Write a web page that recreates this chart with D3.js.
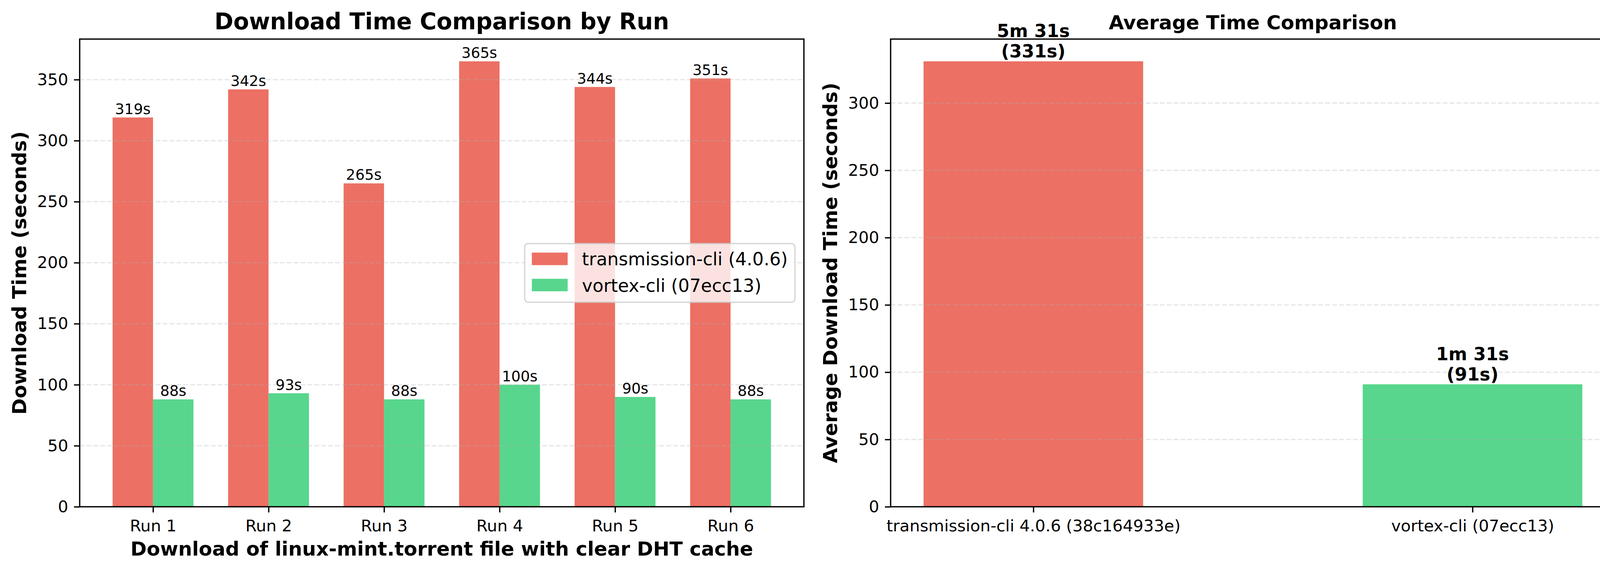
<!DOCTYPE html>
<html>
<head>
<meta charset="utf-8">
<script src="https://cdn.jsdelivr.net/npm/d3@7"></script>
<style>
  html, body { margin: 0; padding: 0; background: #fff; }
  svg { display: block; }
  text { font-family: "DejaVu Sans", sans-serif; fill: #000; }
</style>
</head>
<body>
<svg id="chart" width="4164" height="1464"></svg>
<script>
// ---------- data ----------
const runs = ["Run 1", "Run 2", "Run 3", "Run 4", "Run 5", "Run 6"];
const transmissionTimes = [319, 342, 265, 365, 344, 351];
const vortexTimes = [88, 93, 88, 100, 90, 88];
const seriesNames = ["transmission-cli (4.0.6)", "vortex-cli (07ecc13)"];
const avgCategories = ["transmission-cli 4.0.6 (38c164933e)", "vortex-cli (07ecc13)"];
const avgTimes = [331, 91];
const leftTicks = [0, 50, 100, 150, 200, 250, 300, 350];
const rightTicks = [0, 50, 100, 150, 200, 250, 300];

// ---------- styles ----------
const RED = "#e74c3c", GREEN = "#2ecc71";
const PT = 300 / 72;
const tickFs = 10 * PT, labelFs = 12 * PT, valFs = 9 * PT, legFs = 11 * PT;
const lw = 0.8 * PT;

const svg = d3.select("#chart");
svg.append("rect").attr("width", 4164).attr("height", 1464).attr("fill", "#fff");

function drawFrame(g, x0, x1, y0, y1) {
  g.append("rect").attr("x", x0).attr("y", y1).attr("width", x1 - x0).attr("height", y0 - y1)
    .attr("fill", "none").attr("stroke", "#000").attr("stroke-width", lw);
}

function yAxis(g, y, ticks, x0) {
  const ax = d3.axisLeft(y).tickValues(ticks).tickSize(3.5 * PT).tickPadding(3.5 * PT).tickFormat(d3.format("d"));
  const a = g.append("g").attr("transform", `translate(${x0},0)`).call(ax);
  a.select(".domain").remove();
  a.selectAll("line").attr("stroke", "#000").attr("stroke-width", lw);
  a.selectAll("text").attr("font-size", tickFs).attr("font-family", "DejaVu Sans").attr("fill", "#000");
}

function grid(g, y, ticks, x0, x1) {
  g.append("g").selectAll("line").data(ticks.filter(t => t > 0)).join("line")
    .attr("x1", x0).attr("x2", x1).attr("y1", d => y(d)).attr("y2", d => y(d))
    .attr("stroke", "#b0b0b0").attr("stroke-opacity", 0.3).attr("stroke-width", lw)
    .attr("stroke-dasharray", `${3.7 * lw},${1.6 * lw}`);
}

// ---------- left chart ----------
const L = { x0: 204, x1: 2058, y0: 1297, y1: 100 };
const bw = 0.35;
const xL = d3.scaleLinear().domain([-0.635, 5.635]).range([L.x0, L.x1]);
const yL = d3.scaleLinear().domain([0, 383.25]).range([L.y0, L.y1]);
const gL = svg.append("g");

const series = [
  { name: seriesNames[0], vals: transmissionTimes, color: RED, off: -bw / 2 },
  { name: seriesNames[1], vals: vortexTimes, color: GREEN, off: bw / 2 }
];
series.forEach(s => {
  gL.append("g").selectAll("rect").data(s.vals).join("rect")
    .attr("x", (d, i) => xL(i + s.off - bw / 2))
    .attr("width", (d, i) => xL(i + s.off + bw / 2) - xL(i + s.off - bw / 2))
    .attr("y", d => yL(d)).attr("height", d => yL(0) - yL(d))
    .attr("fill", s.color).attr("fill-opacity", 0.8);
});
grid(gL, yL, leftTicks, L.x0, L.x1);
series.forEach(s => {
  gL.append("g").selectAll("text").data(s.vals).join("text")
    .attr("x", (d, i) => xL(i + s.off)).attr("y", d => yL(d) - 9)
    .attr("text-anchor", "middle").attr("font-size", valFs).text(d => d + "s");
});
drawFrame(gL, L.x0, L.x1, L.y0, L.y1);
yAxis(gL, yL, leftTicks, L.x0);
{
  const ax = d3.axisBottom(xL).tickValues(d3.range(runs.length)).tickFormat(i => runs[i])
    .tickSize(3.5 * PT).tickPadding(3.5 * PT);
  const a = gL.append("g").attr("transform", `translate(0,${L.y0})`).call(ax);
  a.select(".domain").remove();
  a.selectAll("line").attr("stroke", "#000").attr("stroke-width", lw);
  a.selectAll("text").attr("font-size", tickFs).attr("font-family", "DejaVu Sans").attr("fill", "#000").attr("dy", null).attr("y", 0)
    .attr("transform", `translate(0,${3.5 * PT * 2 + 0.76 * tickFs + 2})`);
}
gL.append("text").attr("x", (L.x0 + L.x1) / 2).attr("y", 75).attr("text-anchor", "middle")
  .attr("font-size", 14 * PT).attr("font-weight", "bold").text("Download Time Comparison by Run");
gL.append("text").attr("x", (L.x0 + L.x1) / 2).attr("y", 1422).attr("text-anchor", "middle")
  .attr("font-size", labelFs).attr("font-weight", "bold").text("Download of linux-mint.torrent file with clear DHT cache");
gL.append("text").attr("transform", `translate(67,${(L.y0 + L.y1) / 2}) rotate(-90)`).attr("text-anchor", "middle")
  .attr("font-size", labelFs).attr("font-weight", "bold").text("Download Time (seconds)");

// legend (center right)
{
  const lg = gL.append("g");
  const boxRight = L.x1 - 0.5 * legFs;
  const top = (L.y0 + L.y1) / 2 - 75;
  const texts = [];
  const tmp = lg.append("g");
  series.forEach((s, i) => {
    texts.push(tmp.append("text").attr("font-size", legFs).text(s.name));
  });
  const tw = d3.max(texts, t => t.node().getComputedTextLength());
  tmp.remove();
  const pad = 0.4 * legFs, hw = 2 * legFs, htp = 0.8 * legFs;
  const boxW = pad * 2 + hw + htp + tw;
  const boxLeft = boxRight - boxW;
  lg.append("rect").attr("x", boxLeft).attr("y", top).attr("width", boxW).attr("height", 150)
    .attr("rx", 0.2 * legFs).attr("ry", 0.2 * legFs)
    .attr("fill", "#fff").attr("fill-opacity", 0.8)
    .attr("stroke", "#cccccc").attr("stroke-opacity", 0.8).attr("stroke-width", lw);
  series.forEach((s, i) => {
    const ht = top + 23 + i * 67;
    lg.append("rect").attr("x", boxLeft + pad).attr("y", ht).attr("width", hw).attr("height", 0.7 * legFs)
      .attr("fill", s.color).attr("fill-opacity", 0.8);
    lg.append("text").attr("x", boxLeft + pad + hw + htp).attr("y", top + 55 + i * 68)
      .attr("font-size", legFs).text(s.name);
  });
}

// ---------- right chart ----------
const R = { x0: 2280, x1: 4135, y0: 1297, y1: 100 };
const bw2 = 0.5;
const xR = d3.scaleLinear().domain([-0.325, 1.325]).range([R.x0, R.x1]);
const yR = d3.scaleLinear().domain([0, 347.55]).range([R.y0, R.y1]);
const gR = svg.append("g");
const avgColors = [RED, GREEN];
gR.append("g").selectAll("rect").data(avgTimes).join("rect")
  .attr("x", (d, i) => xR(i - bw2 / 2)).attr("width", (d, i) => xR(i + bw2 / 2) - xR(i - bw2 / 2))
  .attr("y", d => yR(d)).attr("height", d => yR(0) - yR(d))
  .attr("fill", (d, i) => avgColors[i]).attr("fill-opacity", 0.8);
grid(gR, yR, rightTicks, R.x0, R.x1);
avgTimes.forEach((v, i) => {
  const t = gR.append("text").attr("text-anchor", "middle").attr("font-size", legFs).attr("font-weight", "bold");
  t.append("tspan").attr("x", xR(i)).attr("y", yR(v) - 10 - 52).text(`${Math.floor(v / 60)}m ${v % 60}s`);
  t.append("tspan").attr("x", xR(i)).attr("y", yR(v) - 10).text(`(${v}s)`);
});
drawFrame(gR, R.x0, R.x1, R.y0, R.y1);
yAxis(gR, yR, rightTicks, R.x0);
{
  const ax = d3.axisBottom(xR).tickValues([0, 1]).tickFormat(i => avgCategories[i])
    .tickSize(3.5 * PT).tickPadding(3.5 * PT);
  const a = gR.append("g").attr("transform", `translate(0,${R.y0})`).call(ax);
  a.select(".domain").remove();
  a.selectAll("line").attr("stroke", "#000").attr("stroke-width", lw);
  a.selectAll("text").attr("font-size", tickFs).attr("font-family", "DejaVu Sans").attr("fill", "#000").attr("dy", null).attr("y", 0)
    .attr("transform", `translate(0,${3.5 * PT * 2 + 0.76 * tickFs + 2})`);
}
gR.append("text").attr("x", (R.x0 + R.x1) / 2).attr("y", 75).attr("text-anchor", "middle")
  .attr("font-size", labelFs).attr("font-weight", "bold").text("Average Time Comparison");
gR.append("text").attr("transform", `translate(2143,${(R.y0 + R.y1) / 2}) rotate(-90)`).attr("text-anchor", "middle")
  .attr("font-size", labelFs).attr("font-weight", "bold").text("Average Download Time (seconds)");
</script>
</body>
</html>
